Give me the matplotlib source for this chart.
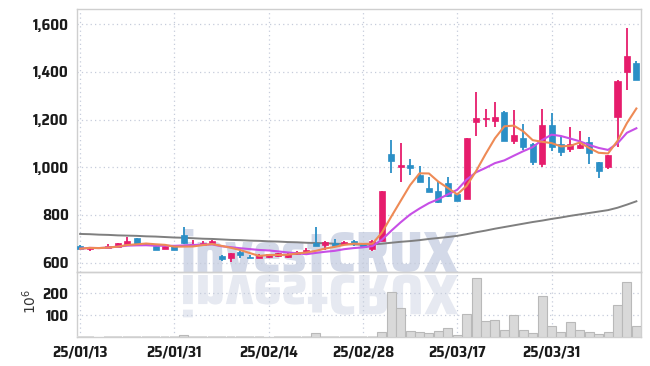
import pandas as pd
import matplotlib
matplotlib.use('Agg')
import matplotlib.pyplot as plt
from matplotlib.textpath import TextPath
from matplotlib.patches import PathPatch
from matplotlib.font_manager import FontProperties
from matplotlib.transforms import Affine2D

# trading days shown on the chart
dates = ['25/01/13', '25/01/14', '25/01/15', '25/01/16', '25/01/17', '25/01/20', '25/01/21', '25/01/22',
         '25/01/23', '25/01/24', '25/01/31', '25/02/03', '25/02/04', '25/02/05', '25/02/06', '25/02/07',
         '25/02/10', '25/02/11', '25/02/12', '25/02/13', '25/02/14', '25/02/17', '25/02/18', '25/02/19',
         '25/02/20', '25/02/21', '25/02/24', '25/02/25', '25/02/26', '25/02/27', '25/02/28', '25/03/04',
         '25/03/05', '25/03/06', '25/03/07', '25/03/10', '25/03/11', '25/03/12', '25/03/13', '25/03/14',
         '25/03/17', '25/03/18', '25/03/19', '25/03/20', '25/03/21', '25/03/24', '25/03/25', '25/03/26',
         '25/03/27', '25/03/28', '25/03/31', '25/04/01', '25/04/02', '25/04/03', '25/04/04', '25/04/07',
         '25/04/08', '25/04/09', '25/04/10', '25/04/11']

opens = [670, 657, 662, 662, 667, 677, 703, 679, 671, 658, 671, 716, 674, 675, 683, 629, 618, 646, 625, 621,
         623, 626, 625, 635, 642, 681, 674, 681, 677, 691, 682, 656, 692, 1057, 1000, 1010, 968, 913, 900, 935,
         888, 868, 1191, 1201, 1195, 1232, 1112, 1124, 1098, 1013, 1177, 1098, 1076, 1080, 1105, 1021, 1000,
         1210, 1398, 1439]
closes = [658, 665, 659, 670, 682, 692, 679, 676, 654, 670, 654, 681, 679, 682, 692, 616, 640, 631, 619, 633,
          635, 640, 636, 646, 654, 670, 688, 670, 688, 679, 666, 692, 900, 1026, 1010, 996, 940, 897, 853, 879,
          860, 1121, 1206, 1208, 1212, 1112, 1135, 1086, 1023, 1177, 1086, 1065, 1098, 1093, 1061, 986, 1051,
          1362, 1467, 1366]
highs = [672, 667, 664, 677, 684, 709, 705, 681, 673, 672, 673, 751, 696, 690, 694, 631, 642, 648, 633, 635,
         637, 642, 638, 648, 662, 748, 690, 699, 690, 693, 684, 694, 902, 1114, 1101, 1035, 1007, 960, 943, 958,
         890, 1123, 1315, 1243, 1273, 1236, 1240, 1180, 1100, 1243, 1227, 1128, 1170, 1152, 1126, 1023, 1053,
         1364, 1583, 1445]
lows = [655, 650, 656, 660, 665, 676, 677, 674, 652, 655, 651, 679, 672, 673, 681, 606, 604, 618, 617, 619,
        621, 624, 618, 633, 640, 668, 653, 668, 675, 668, 664, 650, 690, 977, 937, 968, 938, 895, 850, 874,
        858, 866, 1131, 1170, 1170, 1110, 1098, 1072, 1010, 1000, 1070, 1049, 1065, 1078, 1012, 954, 994,
        1086, 1324, 1364]

# volume in millions
volumes = [1.5, 1.2, 1.0, 1.3, 1.6, 1.8, 1.5, 1.2, 1.4, 1.1, 1.3, 6.5, 1.8, 1.4, 1.5, 2.5, 1.9, 1.6, 1.2, 1.1,
           1.0, 1.2, 1.3, 1.5, 1.8, 17, 2.0, 1.5, 1.4, 1.6, 1.3, 1.8, 22, 206, 131, 26, 22, 16, 26, 39,
           6.5, 105, 270, 73, 77, 31, 100, 31, 16, 188, 50, 22, 67, 31, 22, 12.5, 22, 147, 252, 50]

# long moving average
ma_long = [720, 719, 717, 716, 714, 713, 712, 710, 709, 707, 705, 704, 702, 700, 699, 697, 695, 694, 692, 691,
           689, 688, 686, 685, 683, 682, 681, 679, 678, 676, 675, 676, 679, 683, 687, 690, 694, 699, 703, 707,
           712, 719, 727, 734, 742, 749, 756, 763, 770, 776, 783, 789, 796, 802, 808, 814, 820, 830, 843, 857]

tick_idx = [0, 10, 20, 30, 40, 50]
watermark = 'investCRUX'

UP = '#e61c6c'
DOWN = '#2b8fc6'
GRID = '#c6ccdb'
SPINE = '#cfcfcf'
label_font = ['Saira SemiCondensed', 'Saira Condensed', 'DejaVu Sans']

df = pd.DataFrame({'open': opens, 'high': highs, 'low': lows, 'close': closes, 'vol': volumes})
df['ma5'] = df['close'].rolling(5, min_periods=1).mean()
df['ma10'] = df['close'].rolling(10, min_periods=1).mean()
x = list(range(len(df)))

fig = plt.figure(figsize=(6.5, 3.66), dpi=100)
ax = fig.add_axes([0.1185, 0.256, 0.8672, 0.7194])
axv = fig.add_axes([0.1185, 0.080, 0.8672, 0.176], sharex=ax)
for a in (ax, axv):
    a.patch.set_visible(False)
    for s in a.spines.values():
        s.set_color(SPINE)
        s.set_linewidth(1.0)
    a.grid(True, linestyle=(0, (1, 2.5)), color=GRID, linewidth=0.9)
    a.set_axisbelow(True)
    a.tick_params(length=0, labelsize=11, colors='#1a1a1a', pad=6)

# watermark (text) and its mirrored reflection, sized to the logo box (px)
wm_fp = FontProperties(family=['Saira SemiCondensed', 'Saira Condensed', 'DejaVu Sans'], weight=800)
ext = TextPath((0, 0), watermark, size=100, prop=wm_fp).get_extents()
wm_size = 275 * 72 / ext.width          # points, so the ink is ~275 px wide
x_in = (183 - ext.x0 * wm_size / 72) / 100
fig.text(x_in / 6.5, (366 - 272) / 366, watermark, fontproperties=wm_fp, fontsize=wm_size,
         color='#d3d9e8', zorder=-5, va='baseline', ha='left')
tp = TextPath((0, 0), watermark, size=wm_size, prop=wm_fp)
tr = Affine2D().scale(1 / 72, -1 / 72).translate(x_in, (366 - 275) / 100) + fig.dpi_scale_trans
fig.patches.append(PathPatch(tp, transform=tr, facecolor='#e6e9f1', edgecolor='none', zorder=-6))

# candles
for i, row in df.iterrows():
    col = UP if row['close'] >= row['open'] else DOWN
    ax.vlines(i, row['low'], row['high'], color=col, linewidth=1.3, zorder=3)
    lo = min(row['open'], row['close'])
    h = max(abs(row['close'] - row['open']), 5)
    ax.bar(i, h, bottom=lo, width=0.64, color=col, edgecolor=col, linewidth=0.5, zorder=4)

ax.plot(x, ma_long, color='#7f7f7f', linewidth=1.4, zorder=2)
ax.plot(x, df['ma10'], color='#c74fe6', linewidth=1.5, zorder=5)
ax.plot(x, df['ma5'], color='#ee8a55', linewidth=1.5, zorder=5)

ax.set_ylim(559, 1664)
ax.set_yticks([600, 800, 1000, 1200, 1400, 1600])
ax.set_yticklabels([f'{v:,}' for v in [600, 800, 1000, 1200, 1400, 1600]],
                   family=label_font, fontweight=700)
ax.set_xlim(-0.33, 59.46)
ax.set_xticks(tick_idx)
ax.tick_params(axis='x', labelbottom=False)

edges = ['#b9b9b9' if v >= 3 else 'none' for v in df['vol']]
axv.bar(x, df['vol'], width=0.95, color='#d9d9d9', edgecolor=edges, linewidth=0.8, zorder=3)
axv.set_ylim(0, 298)
axv.set_yticks([100, 200])
axv.set_yticklabels(['100', '200'], family=label_font, fontweight=700)
axv.set_xticks(tick_idx)
axv.set_xticklabels([dates[i] for i in tick_idx], family=label_font, fontweight=700)
axv.set_ylabel('$10^6$', fontsize=10, color='#333333')
axv.yaxis.set_label_coords(-0.068, 0.55)

fig.savefig('out.png', dpi=100, facecolor='white')
